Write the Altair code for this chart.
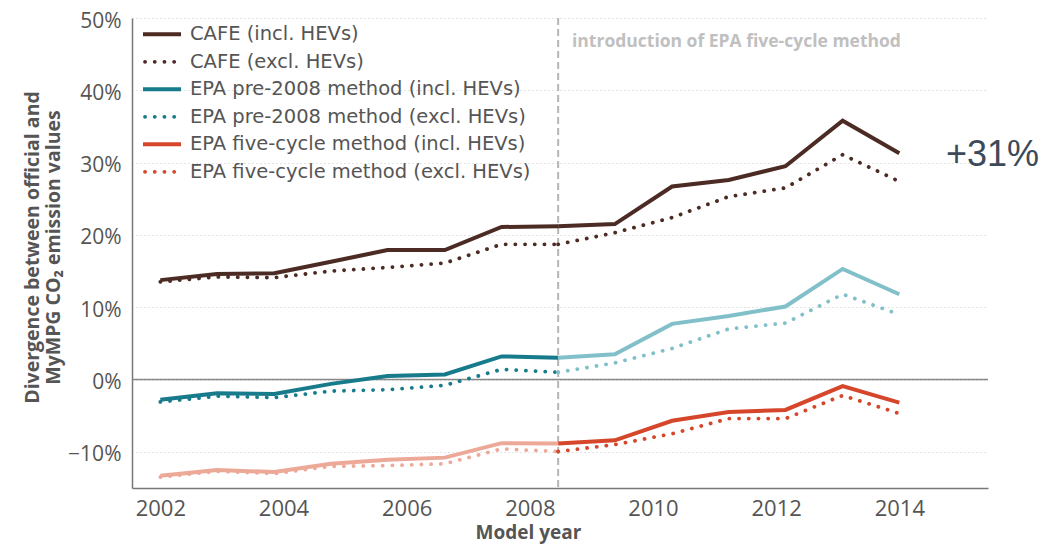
import altair as alt
import pandas as pd

# ---------------- data ----------------
years = [2002.0, 2002.92, 2003.85, 2004.77, 2005.69, 2006.62, 2007.54,
         2008.46, 2009.38, 2010.31, 2011.23, 2012.15, 2013.08, 2014.0]

cafe_incl = [13.75, 14.6, 14.7, 16.3, 17.9, 17.9, 21.1, 21.2, 21.5, 26.7, 27.6, 29.5, 35.8, 31.3]
cafe_excl = [13.5, 14.2, 14.1, 15.0, 15.5, 16.1, 18.7, 18.7, 20.3, 22.4, 25.3, 26.5, 31.1, 27.4]
pre_incl = [-2.8, -1.9, -2.0, -0.6, 0.5, 0.7, 3.2, 3.0, 3.5, 7.7, 8.8, 10.1, 15.3, 11.8]
pre_excl = [-3.1, -2.3, -2.5, -1.6, -1.4, -0.8, 1.4, 1.0, 2.3, 4.3, 7.0, 7.8, 11.8, 9.0]
five_incl = [-13.3, -12.5, -12.8, -11.65, -11.1, -10.8, -8.8, -8.85, -8.4, -5.7, -4.5, -4.2, -0.9, -3.2]
five_excl = [-13.5, -12.7, -13.0, -12.0, -11.9, -11.65, -9.6, -9.95, -9.0, -7.5, -5.4, -5.4, -2.2, -4.7]

series_names = [
    "CAFE (incl. HEVs)",
    "CAFE (excl. HEVs)",
    "EPA pre-2008 method (incl. HEVs)",
    "EPA pre-2008 method (excl. HEVs)",
    "EPA five-cycle method (incl. HEVs)",
    "EPA five-cycle method (excl. HEVs)",
]
series_values = [cafe_incl, cafe_excl, pre_incl, pre_excl, five_incl, five_excl]
series_family = ["cafe", "cafe", "pre", "pre", "five", "five"]
series_dotted = [False, True, False, True, False, True]
split_idx = 7  # introduction of EPA five-cycle method

x_ticks = [2002, 2004, 2006, 2008, 2010, 2012, 2014]
y_ticks = [-10, 0, 10, 20, 30, 40, 50]

intro_label = "introduction of EPA five-cycle method"
callout_label = "+31%"

# ---------------- styles ----------------
BROWN = "#4b2b23"
TEAL = "#177b8c"
TEAL_LIGHT = "#82c0c9"
RED = "#d5462b"
RED_LIGHT = "#eda998"
style_domain = ["cafe-early", "cafe-late", "pre-early", "pre-late", "five-early", "five-late"]
style_range = [BROWN, BROWN, TEAL, TEAL_LIGHT, RED_LIGHT, RED]
legend_colors = [BROWN, BROWN, TEAL, TEAL, RED, RED]
FONT = "Open Sans"
LEGEND_FONT = "DejaVu Sans"
TXT = "#555555"

rows = []
for name, vals, fam, dotted in zip(series_names, series_values, series_family, series_dotted):
    for seg, idxs in (("early", range(0, split_idx + 1)), ("late", range(split_idx, len(years)))):
        for i in idxs:
            rows.append({"series": name, "style": f"{fam}-{seg}", "key": f"{name}|{seg}",
                         "dotted": dotted, "x": years[i], "y": vals[i], "order": i})
df = pd.DataFrame(rows)

x_enc = alt.X(
    "x:Q",
    scale=alt.Scale(domain=[2001.54, 2015.44], nice=False, zero=False),
    axis=alt.Axis(values=x_ticks, format="d", ticks=False, grid=False,
                  labelFontSize=22, labelColor=TXT, labelPadding=10,
                  domainColor="#777777", domainWidth=1.5,
                  title="Model year", titleFontSize=19, titleFontWeight="bold",
                  titleColor=TXT, titleX=396, titleY=50, titleBaseline="alphabetic"),
)
y_enc = alt.Y(
    "y:Q",
    scale=alt.Scale(domain=[-15, 50], nice=False, zero=False),
    axis=alt.Axis(values=y_ticks, ticks=False, grid=True, gridDash=[1, 3],
                  gridColor="#c8c8c8", gridWidth=1,
                  labelExpr="(datum.value < 0 ? '\u2212' + abs(datum.value) : datum.value) + '%'",
                  labelFontSize=21, labelColor=TXT, labelPadding=11, labelOffset=3,
                  domainColor="#777777", domainWidth=1.5,
                  title=["Divergence between official and", "MyMPG CO\u2082 emission values"],
                  titleFontSize=19.5, titleFontWeight="bold", titleColor=TXT,
                  titleAngle=270, titleX=-100, titleY=229, titleAlign="center",
                  titleBaseline="middle", titleLineHeight=21),
)
color_enc = alt.Color("style:N", scale=alt.Scale(domain=style_domain, range=style_range), legend=None)

dotted_lines = alt.Chart(df).transform_filter("datum.dotted").mark_line(
    strokeWidth=3.8, strokeDash=[0.1, 9.6], strokeCap="round"
).encode(x=x_enc, y=y_enc, color=color_enc, detail="key:N", order="order:Q")

solid_lines = alt.Chart(df).transform_filter("!datum.dotted").mark_line(
    strokeWidth=4
).encode(x=x_enc, y=y_enc, color=color_enc, detail="key:N", order="order:Q")

zero_rule = alt.Chart(pd.DataFrame({"y": [0]})).mark_rule(
    color="#888888", strokeWidth=1.5
).encode(y=y_enc)

intro_rule = alt.Chart(pd.DataFrame({"x": [years[split_idx]]})).mark_rule(
    color="#b5b5b5", strokeWidth=2, strokeDash=[7, 4]
).encode(x=x_enc)

intro_text = alt.Chart(pd.DataFrame({"t": [intro_label]})).mark_text(
    align="left", baseline="middle", font=FONT, fontSize=17.5, fontWeight="bold", color="#c0c0c0"
).encode(text="t:N", x=alt.value(440), y=alt.value(24))

callout_text = alt.Chart(pd.DataFrame({"t": [callout_label]})).mark_text(
    align="left", baseline="middle", font="Liberation Sans", fontSize=36, color="#3d4a59"
).encode(text="t:N", x=alt.value(814), y=alt.value(137))

legend_layers = []
for i, (name, col, dotted) in enumerate(zip(series_names, legend_colors, series_dotted)):
    yy = 16.3 + 27.5 * i
    base = alt.Chart(pd.DataFrame({"label": [name]}))
    if dotted:
        sym = base.mark_rule(color=col, strokeWidth=3.8, strokeDash=[0.1, 9.6], strokeCap="round").encode(
            x=alt.value(13), x2=alt.value(46), y=alt.value(yy))
    else:
        sym = base.mark_rule(color=col, strokeWidth=4).encode(
            x=alt.value(11), x2=alt.value(49), y=alt.value(yy))
    lab = base.mark_text(align="left", baseline="middle", font=LEGEND_FONT, fontSize=19.5, color=TXT).encode(
        text="label:N", x=alt.value(58), y=alt.value(yy))
    legend_layers += [sym, lab]

chart = alt.layer(
    zero_rule, intro_rule, dotted_lines, solid_lines, intro_text, callout_text, *legend_layers
).properties(
    width=856, height=470,
    padding={"left": 124, "top": 10, "right": 54, "bottom": 57},
    autosize=alt.AutoSizeParams(type="none"),
).configure_view(stroke=None).configure_axis(labelFont=FONT, titleFont=FONT)

chart.save("out.html", embed_options={"renderer": "svg", "actions": False})
